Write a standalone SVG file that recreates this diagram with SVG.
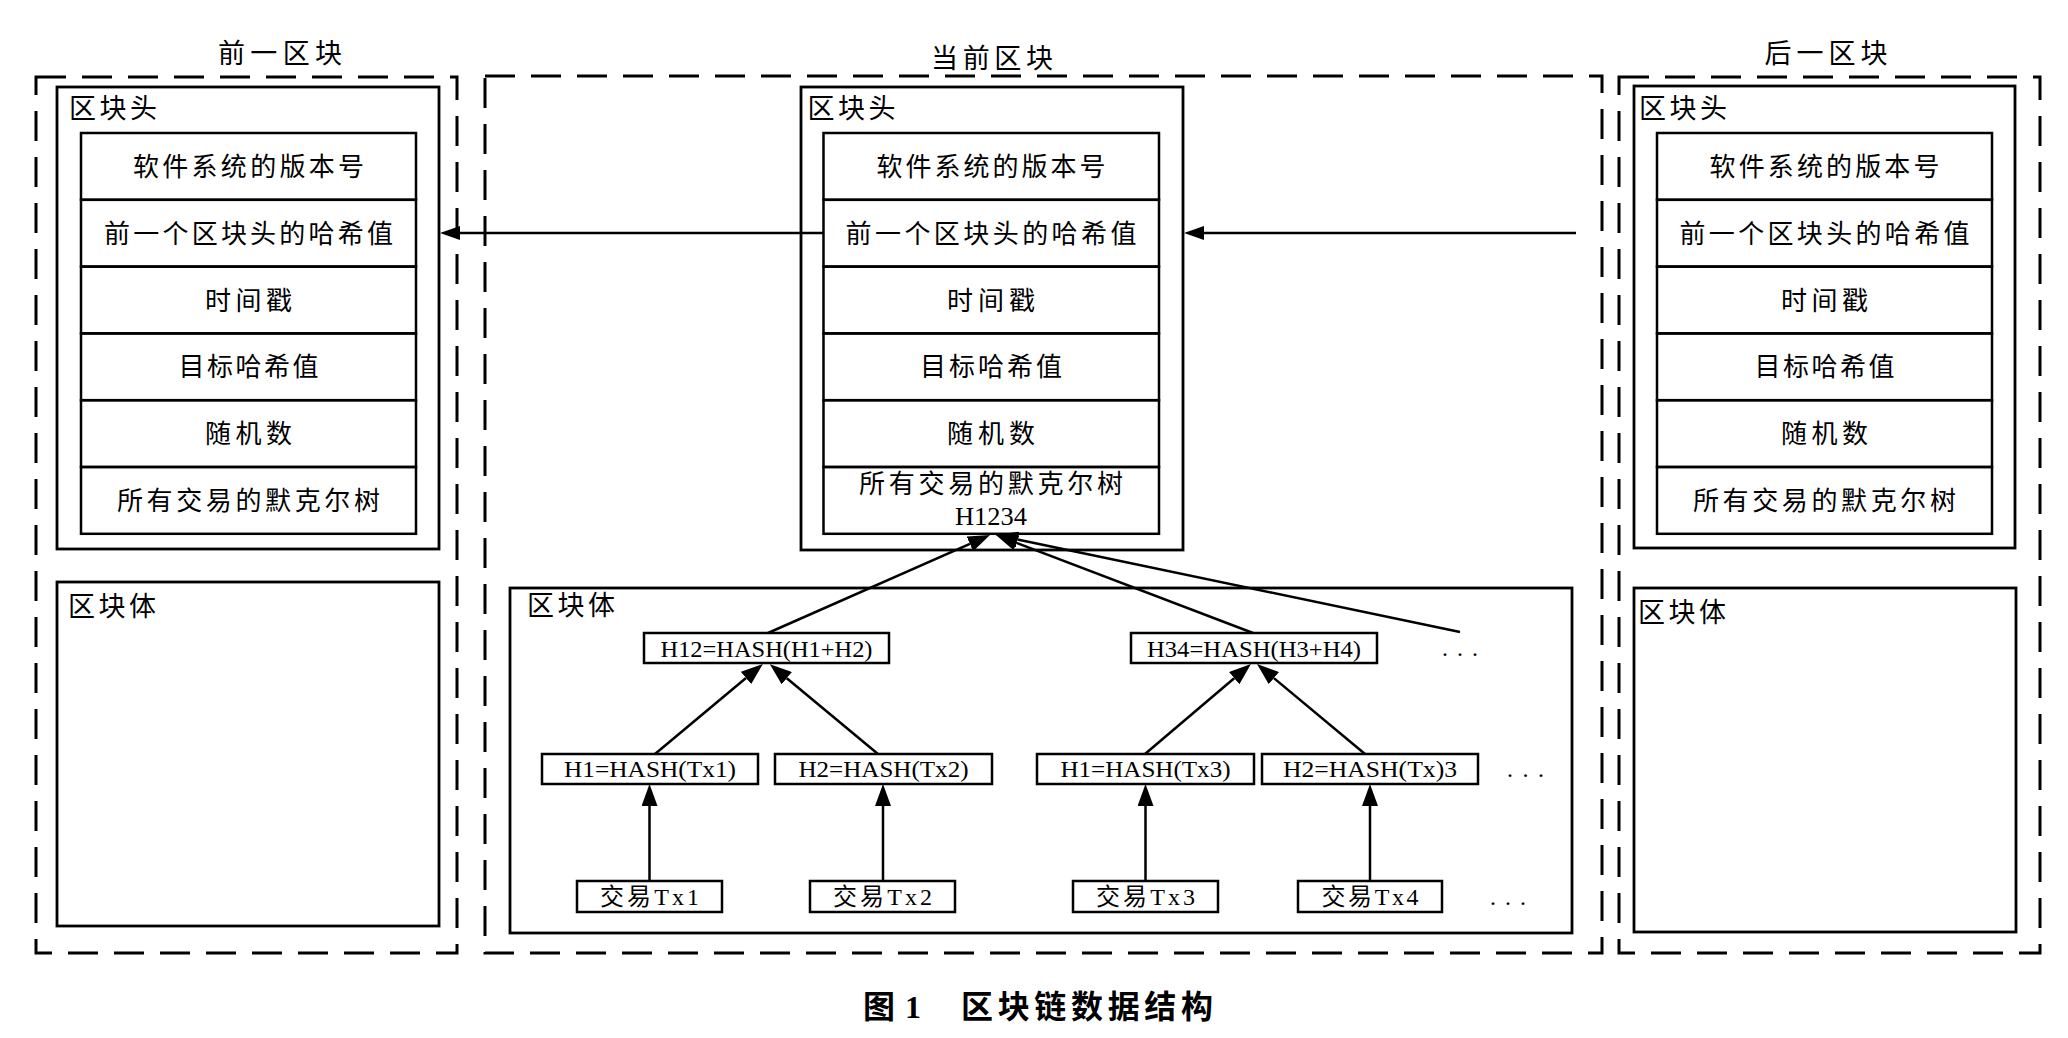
<svg xmlns="http://www.w3.org/2000/svg" width="2068" height="1038" viewBox="0 0 2068 1038">
<defs>
<style>
.dash{fill:none;stroke:#000;stroke-width:3;stroke-dasharray:30 16}
.box{fill:none;stroke:#000;stroke-width:2.8}
.cell{fill:none;stroke:#000;stroke-width:2.5}
.nb{fill:#fff;stroke:#000;stroke-width:2.5}
.cj{font-family:"Noto Sans CJK SC","Noto Sans CJK JP",sans-serif;font-size:26px;fill:#000}
.ti{font-family:"Noto Sans CJK SC","Noto Sans CJK JP",sans-serif;font-size:27px;fill:#000}
.c{text-anchor:middle}
.sf{font-family:"Liberation Serif","Noto Sans CJK SC",serif;font-size:24px;fill:#000}
.ln{fill:none;stroke:#000;stroke-width:2.5}
.cap{font-family:"Liberation Serif","Noto Sans CJK SC",serif;font-size:32px;font-weight:bold;fill:#000}
</style>
<marker id="ah" viewBox="0 -8 22 16" refX="0" refY="0" markerWidth="22" markerHeight="16" markerUnits="userSpaceOnUse" orient="auto"><path d="M0,-8 L22,0 L0,8 z" fill="#000"/></marker>
<marker id="ah2" viewBox="0 -7 20 14" refX="0" refY="0" markerWidth="20" markerHeight="14" markerUnits="userSpaceOnUse" orient="auto"><path d="M0,-7 L20,0 L0,7 z" fill="#000"/></marker>
</defs>
<rect x="0" y="0" width="2068" height="1038" fill="#fff"/>

<!-- Previous block -->
<g id="prev-block">
  <rect class="dash" x="36" y="77" width="421" height="876"/>
  <text class="ti c" x="280" y="63" textLength="124">前一区块</text>
  <g id="prev-header">
    <rect class="box" x="57" y="87" width="382" height="462"/>
    <text class="ti" x="69" y="118" textLength="88">区块头</text>
    <g id="prev-f1"><rect class="cell" x="81" y="133" width="335" height="66.8"/><text class="cj c" x="248.5" y="176" textLength="231">软件系统的版本号</text></g>
    <g id="prev-f2"><rect class="cell" x="81" y="199.8" width="335" height="66.8"/><text class="cj c" x="248.5" y="242.8" textLength="289">前一个区块头的哈希值</text></g>
    <g id="prev-f3"><rect class="cell" x="81" y="266.6" width="335" height="66.8"/><text class="cj c" x="248.5" y="309.6" textLength="87">时间戳</text></g>
    <g id="prev-f4"><rect class="cell" x="81" y="333.4" width="335" height="66.8"/><text class="cj c" x="248.5" y="376.4" textLength="140">目标哈希值</text></g>
    <g id="prev-f5"><rect class="cell" x="81" y="400.2" width="335" height="66.8"/><text class="cj c" x="248.5" y="443.2" textLength="87">随机数</text></g>
    <g id="prev-f6"><rect class="cell" x="81" y="467" width="335" height="66.8"/><text class="cj c" x="248.5" y="510" textLength="263">所有交易的默克尔树</text></g>
  </g>
  <g id="prev-body">
    <rect class="box" x="57" y="582" width="382" height="344"/>
    <text class="ti" x="68" y="616" textLength="88">区块体</text>
  </g>
</g>

<!-- Current block -->
<g id="cur-block">
  <rect class="dash" x="485" y="76" width="1117" height="877"/>
  <text class="ti c" x="992" y="68" textLength="122">当前区块</text>
  <g id="cur-header">
    <rect class="box" x="801" y="87" width="382" height="463"/>
    <text class="ti" x="807.5" y="118" textLength="88">区块头</text>
    <g id="cur-f1"><rect class="cell" x="823.5" y="133" width="335.5" height="66.8"/><text class="cj c" x="991" y="176" textLength="229">软件系统的版本号</text></g>
    <g id="cur-f2"><rect class="cell" x="823.5" y="199.8" width="335.5" height="66.8"/><text class="cj c" x="991" y="242.8" textLength="291">前一个区块头的哈希值</text></g>
    <g id="cur-f3"><rect class="cell" x="823.5" y="266.6" width="335.5" height="66.8"/><text class="cj c" x="991" y="309.6" textLength="88">时间戳</text></g>
    <g id="cur-f4"><rect class="cell" x="823.5" y="333.4" width="335.5" height="66.8"/><text class="cj c" x="991" y="376.4" textLength="142">目标哈希值</text></g>
    <g id="cur-f5"><rect class="cell" x="823.5" y="400.2" width="335.5" height="66.8"/><text class="cj c" x="991" y="443.2" textLength="88">随机数</text></g>
    <g id="cur-f6"><rect class="cell" x="823.5" y="467" width="335.5" height="66.8"/><text class="cj c" x="991" y="493" textLength="264">所有交易的默克尔树</text><text class="sf c" x="991" y="525" textLength="72" lengthAdjust="spacingAndGlyphs" style="font-size:25px">H1234</text></g>
  </g>
  <g id="cur-body">
    <rect class="box" x="510" y="588" width="1062" height="345"/>
    <text class="ti" x="527" y="615" textLength="88">区块体</text>
  </g>
  <g id="h12"><rect class="nb" x="644" y="633" width="245" height="30"/><text class="sf c" x="766.5" y="656.5" textLength="212" lengthAdjust="spacingAndGlyphs">H12=HASH(H1+H2)</text></g>
  <g id="h34"><rect class="nb" x="1131" y="633" width="246" height="30"/><text class="sf c" x="1254" y="656.5" textLength="214" lengthAdjust="spacingAndGlyphs">H34=HASH(H3+H4)</text></g>
  <g id="dots-top"><text class="sf" x="1442" y="656" textLength="36">...</text></g>
  <g id="h1"><rect class="nb" x="542" y="754" width="216" height="30"/><text class="sf c" x="650" y="777" textLength="172" lengthAdjust="spacingAndGlyphs">H1=HASH(Tx1)</text></g>
  <g id="h2"><rect class="nb" x="775" y="754" width="217" height="30"/><text class="sf c" x="883.5" y="777" textLength="170" lengthAdjust="spacingAndGlyphs">H2=HASH(Tx2)</text></g>
  <g id="h3"><rect class="nb" x="1037" y="754" width="217" height="30"/><text class="sf c" x="1145.5" y="777" textLength="170" lengthAdjust="spacingAndGlyphs">H1=HASH(Tx3)</text></g>
  <g id="h4"><rect class="nb" x="1262" y="754" width="216" height="30"/><text class="sf c" x="1370" y="777" textLength="174" lengthAdjust="spacingAndGlyphs">H2=HASH(Tx)3</text></g>
  <g id="dots-mid"><text class="sf" x="1507" y="777" textLength="37">...</text></g>
  <g id="tx1"><rect class="nb" x="577" y="881" width="145" height="31"/><text class="sf c" x="649.5" y="904.5" textLength="99">交易Tx1</text></g>
  <g id="tx2"><rect class="nb" x="810" y="881" width="145" height="31"/><text class="sf c" x="882.5" y="904.5" textLength="99">交易Tx2</text></g>
  <g id="tx3"><rect class="nb" x="1073" y="881" width="145" height="31"/><text class="sf c" x="1145.5" y="904.5" textLength="99">交易Tx3</text></g>
  <g id="tx4"><rect class="nb" x="1298" y="881" width="144" height="31"/><text class="sf c" x="1370" y="904.5" textLength="97">交易Tx4</text></g>
  <g id="dots-bot"><text class="sf" x="1490" y="905" textLength="36">...</text></g>
</g>

<!-- Next block -->
<g id="next-block">
  <rect class="dash" x="1619" y="77" width="421" height="876"/>
  <text class="ti c" x="1826" y="63" textLength="123">后一区块</text>
  <g id="next-header">
    <rect class="box" x="1634" y="86" width="381" height="462"/>
    <text class="ti" x="1639" y="118" textLength="88">区块头</text>
    <g id="next-f1"><rect class="cell" x="1657" y="133" width="335" height="66.8"/><text class="cj c" x="1824.5" y="176" textLength="230">软件系统的版本号</text></g>
    <g id="next-f2"><rect class="cell" x="1657" y="199.8" width="335" height="66.8"/><text class="cj c" x="1824.5" y="242.8" textLength="290">前一个区块头的哈希值</text></g>
    <g id="next-f3"><rect class="cell" x="1657" y="266.6" width="335" height="66.8"/><text class="cj c" x="1824.5" y="309.6" textLength="87">时间戳</text></g>
    <g id="next-f4"><rect class="cell" x="1657" y="333.4" width="335" height="66.8"/><text class="cj c" x="1824.5" y="376.4" textLength="140">目标哈希值</text></g>
    <g id="next-f5"><rect class="cell" x="1657" y="400.2" width="335" height="66.8"/><text class="cj c" x="1824.5" y="443.2" textLength="87">随机数</text></g>
    <g id="next-f6"><rect class="cell" x="1657" y="467" width="335" height="66.8"/><text class="cj c" x="1824.5" y="510" textLength="263">所有交易的默克尔树</text></g>
  </g>
  <g id="next-body">
    <rect class="box" x="1634" y="588" width="382" height="344"/>
    <text class="ti" x="1638" y="622" textLength="88">区块体</text>
  </g>
</g>

<!-- Connectors -->
<g id="connectors">
  <line class="ln" x1="823.5" y1="233" x2="460" y2="233" marker-end="url(#ah2)"/>
  <line class="ln" x1="1576" y1="233" x2="1204" y2="233" marker-end="url(#ah2)"/>
  <line class="ln" x1="649.5" y1="881" x2="649.5" y2="806" marker-end="url(#ah)"/>
  <line class="ln" x1="883" y1="881" x2="883" y2="806" marker-end="url(#ah)"/>
  <line class="ln" x1="1145.5" y1="881" x2="1145.5" y2="806" marker-end="url(#ah)"/>
  <line class="ln" x1="1370" y1="881" x2="1370" y2="806" marker-end="url(#ah)"/>
  <line class="ln" x1="655" y1="754" x2="746" y2="678" marker-end="url(#ah)"/>
  <line class="ln" x1="878" y1="754" x2="786.8" y2="678.2" marker-end="url(#ah)"/>
  <line class="ln" x1="1145" y1="754" x2="1234.2" y2="678.2" marker-end="url(#ah)"/>
  <line class="ln" x1="1365" y1="754" x2="1273.9" y2="678.1" marker-end="url(#ah)"/>
  <line class="ln" x1="768" y1="633" x2="969.9" y2="543.9" marker-end="url(#ah)"/>
  <line class="ln" x1="1253" y1="633" x2="1016.5" y2="542.8" marker-end="url(#ah)"/>
  <line class="ln" x1="1460" y1="632" x2="1017.5" y2="539.5" marker-end="url(#ah)"/>
</g>

<g id="caption">
  <text class="cap" x="863" y="1018" textLength="58">图1</text>
  <text class="cap" x="961" y="1018" textLength="252">区块链数据结构</text>
</g>
</svg>
